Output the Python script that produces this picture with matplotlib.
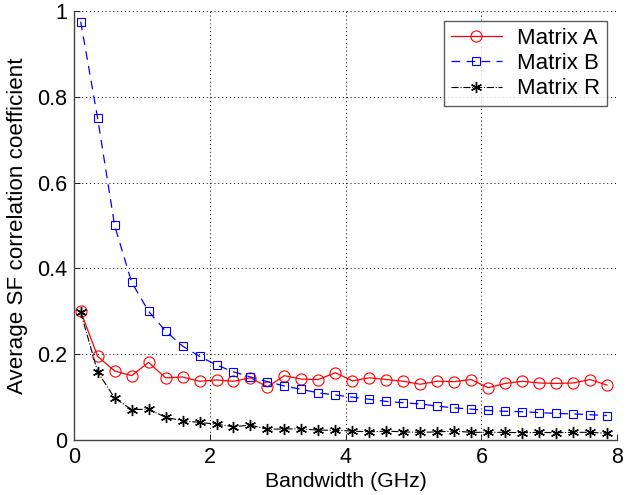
import matplotlib
matplotlib.use('Agg')
import matplotlib.pyplot as plt
import numpy as np

plt.rcParams['font.family'] = ['Liberation Sans', 'DejaVu Sans']

# bandwidth points (GHz)
bandwidth = [0.1, 0.35, 0.6, 0.85, 1.1, 1.35, 1.6, 1.85, 2.1, 2.35, 2.6, 2.85,
             3.1, 3.35, 3.6, 3.85, 4.1, 4.35, 4.6, 4.85, 5.1, 5.35, 5.6, 5.85,
             6.1, 6.35, 6.6, 6.85, 7.1, 7.35, 7.6, 7.85]

matrix_a = [0.30, 0.195, 0.161, 0.150, 0.181, 0.145, 0.147, 0.137, 0.140, 0.137,
            0.145, 0.124, 0.150, 0.142, 0.141, 0.157, 0.138, 0.145, 0.141, 0.137,
            0.130, 0.137, 0.136, 0.141, 0.122, 0.132, 0.137, 0.133, 0.132, 0.133,
            0.141, 0.128]

matrix_b = [0.975, 0.75, 0.50, 0.368, 0.30, 0.254, 0.219, 0.195, 0.175, 0.159,
            0.147, 0.136, 0.126, 0.118, 0.110, 0.105, 0.100, 0.095, 0.090, 0.087,
            0.084, 0.079, 0.075, 0.072, 0.069, 0.067, 0.066, 0.064, 0.062, 0.061,
            0.059, 0.057]

matrix_r = [0.298, 0.159, 0.098, 0.071, 0.072, 0.053, 0.045, 0.041, 0.037, 0.031,
            0.035, 0.025, 0.026, 0.026, 0.023, 0.023, 0.021, 0.019, 0.021, 0.019,
            0.018, 0.019, 0.021, 0.018, 0.018, 0.018, 0.017, 0.018, 0.017, 0.018,
            0.018, 0.016]

x_ticks = [0, 2, 4, 6, 8]
y_ticks = [0, 0.2, 0.4, 0.6, 0.8, 1]
y_labels = ['0', '0.2', '0.4', '0.6', '0.8', '1']


def main():
    fig = plt.figure(figsize=(6.26, 4.95), dpi=100)
    ax = fig.add_axes([0.118, 0.111, 0.868, 0.867])

    ax.plot(bandwidth, matrix_a, color='#ff0000', linestyle='-', linewidth=0.9,
            marker='o', markersize=8, markerfacecolor='none',
            markeredgecolor='#ff0000', markeredgewidth=0.8, label='Matrix A')
    ax.plot(bandwidth, matrix_b, color='#0000ff', linestyle=(0, (7, 5)), linewidth=0.9,
            marker='s', markersize=6, markerfacecolor='none',
            markeredgecolor='#0000ff', markeredgewidth=0.8, label='Matrix B')
    ax.plot(bandwidth, matrix_r, color='black', linestyle='-.', linewidth=0.8,
            marker=(6, 2, 0), markersize=8, markeredgewidth=1.0,
            markeredgecolor='black', label='Matrix R')

    ax.set_xlim(0, 8)
    ax.set_ylim(0, 1)
    ax.set_xticks(x_ticks)
    ax.set_yticks(y_ticks)
    ax.set_yticklabels(y_labels)
    ax.tick_params(direction='in', length=4, labelsize=15.5, width=0.6, pad=5)

    ax.grid(True, linestyle=(0, (1, 3)), color='black', linewidth=0.7)
    ax.spines['top'].set_visible(False)
    ax.spines['right'].set_visible(False)
    for s in ('left', 'bottom'):
        ax.spines[s].set_color('#444444')
        ax.spines[s].set_linewidth(1.0)

    ax.set_xlabel('Bandwidth (GHz)', fontsize=15.3, labelpad=3)
    ax.set_ylabel('Average SF correlation coefficient', fontsize=16.1, labelpad=6)

    leg = ax.legend(loc='upper right', fontsize=16, frameon=True, fancybox=False,
                    borderaxespad=0.45, handlelength=2.3, borderpad=0.3,
                    labelspacing=0.2, handletextpad=0.7)
    leg.get_frame().set_edgecolor('#333333')
    leg.get_frame().set_linewidth(1.0)

    fig.savefig('out.png', dpi=100)


if __name__ == '__main__':
    main()
